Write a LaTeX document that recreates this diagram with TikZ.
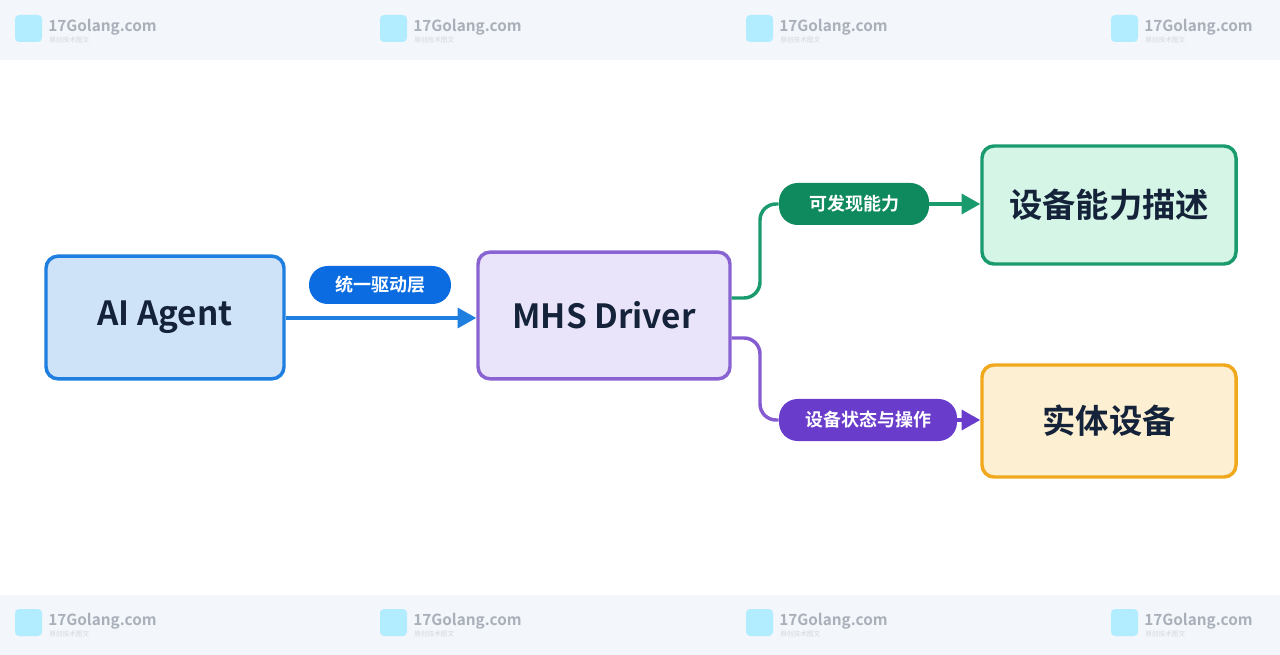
\documentclass[tikz,border=0pt]{standalone}
\usepackage{fontspec}
\setmainfont{Noto Sans CJK SC}
\newfontfamily\cjkb{Noto Sans CJK SC}[BoldFont={* Bold}]
\usetikzlibrary{arrows.meta}
\definecolor{bandc}{HTML}{F3F6FA}
\definecolor{bluef}{HTML}{CFE3F8}\definecolor{blued}{HTML}{1E7FE0}\definecolor{bluep}{HTML}{0A6CE0}
\definecolor{purf}{HTML}{EAE4FA}\definecolor{purd}{HTML}{8A63D2}\definecolor{purp}{HTML}{6A3CCB}
\definecolor{grf}{HTML}{D5F5E6}\definecolor{grd}{HTML}{1A9B6E}\definecolor{grp}{HTML}{0E8A5E}
\definecolor{orf}{HTML}{FDF0D2}\definecolor{ord}{HTML}{F0A81C}
\definecolor{txt}{HTML}{14233A}\definecolor{wm}{HTML}{A9B0BA}
\begin{document}
\begin{tikzpicture}[x=0.75pt,y=-0.75pt,
 box/.style={draw, line width=2.6pt, rounded corners=9pt, text=txt, font=\cjkb\bfseries\fontsize{25}{28}\selectfont},
 pill/.style={rounded corners=14pt, text=white, font=\cjkb\bfseries\fontsize{13.5}{16}\selectfont, inner sep=0pt},
 conn/.style={line width=2.6pt, rounded corners=12pt},
 arr/.style={line width=2.6pt, -{Triangle[length=14pt,width=15pt]}}]
\useasboundingbox (0,0) rectangle (1280,655);
\fill[white] (0,0) rectangle (1280,655);
\fill[bandc] (0,0) rectangle (1280,60);
\fill[bandc] (0,595) rectangle (1280,655);
\foreach \x in {15,380,746,1111}{
 \foreach \y in {28,622}{
  \fill[blue!25!cyan!30, rounded corners=3pt] (\x,\y-13) rectangle (\x+27,\y+14);
  \node[anchor=west, text=wm, font=\cjkb\bfseries\fontsize{11.5}{12}\selectfont, inner sep=0pt] at (\x+33,\y-1) {17Golang.com};
  \node[anchor=west, text=wm!50, font=\fontsize{5}{6}\selectfont, inner sep=0pt] at (\x+34,\y+12) {原创技术图文};
 }}
\node[box, fill=bluef, draw=blued, minimum width=178.5pt, minimum height=92pt] (ai) at (165,317.5) {\raisebox{-2pt}{AI Agent}};
\node[box, fill=purf, draw=purd, minimum width=189pt, minimum height=95pt] (mhs) at (604,315.5) {\raisebox{-2pt}{MHS Driver}};
\node[box, fill=grf, draw=grd, minimum width=190.5pt, minimum height=88.5pt] (cap) at (1109,205) {设备能力描述};
\node[box, fill=orf, draw=ord, minimum width=190.5pt, minimum height=84pt] (dev) at (1109,421) {实体设备};
\node[pill, fill=bluep, minimum width=106.5pt, minimum height=28.5pt] (p1) at (380,285) {统一驱动层};
\node[pill, fill=grp, minimum width=112.5pt, minimum height=31.5pt] (p2) at (854,204) {可发现能力};
\node[pill, fill=purp, minimum width=133.5pt, minimum height=31.5pt] (p3) at (868,420) {设备状态与操作};
\draw[arr, blued] (ai.east |- 0,318) -- (mhs.west |- 0,318);
\draw[conn, grd] (mhs.east |- 0,298) -- (760,298) -- (760,204) -- (p2.west);
\draw[arr, grd] (p2.east) -- (cap.west |- p2.east);
\draw[conn, purd!80!purp] (mhs.east |- 0,338) -- (760,338) -- (760,420) -- (p3.west);
\draw[arr, purp] (p3.east) -- (dev.west |- p3.east);
\end{tikzpicture}
\end{document}
